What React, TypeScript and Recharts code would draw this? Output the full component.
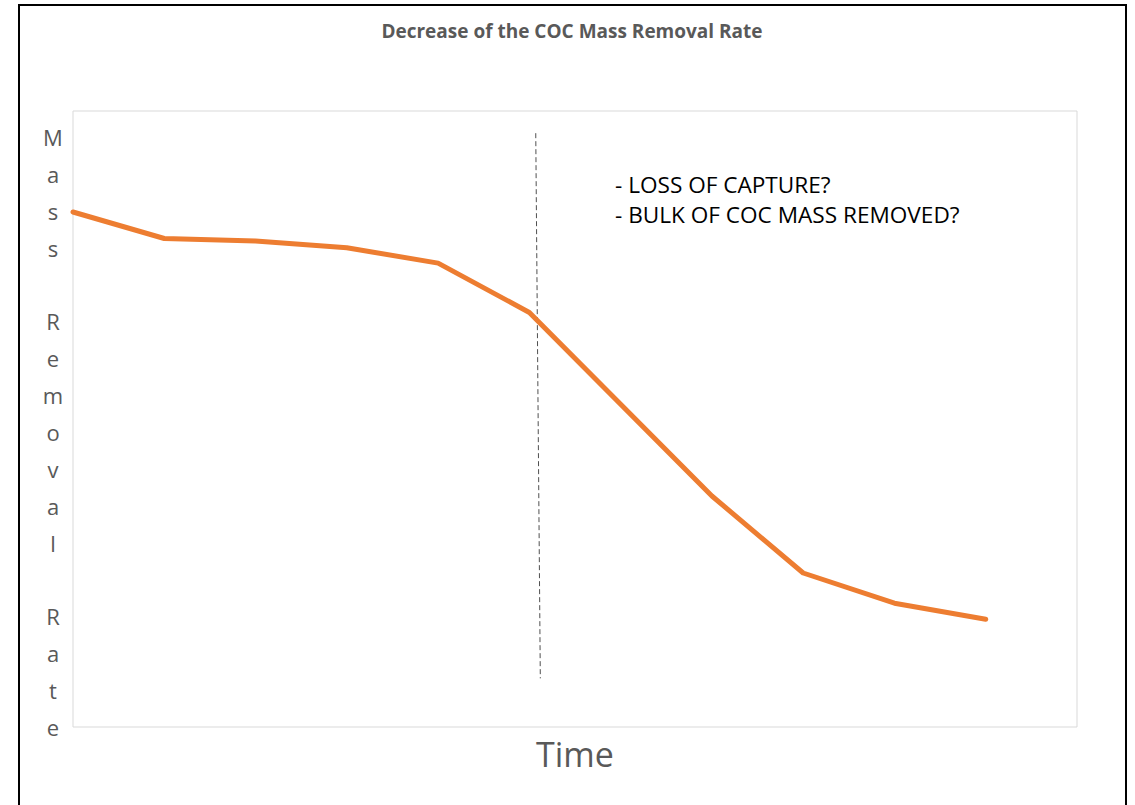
import React from 'react';
import { LineChart, Line, XAxis, YAxis, ReferenceLine, ReferenceArea } from 'recharts';

const timeSteps = [0, 1, 2, 3, 4, 5, 6, 7, 8, 9, 10];
const removalRate = [83.6, 79.3, 78.9, 77.8, 75.3, 67.3, 52.4, 37.5, 25.0, 20.1, 17.5];
const annotationLines = ['- LOSS OF CAPTURE?', '- BULK OF COC MASS REMOVED?'];
const yLabelLetters = ['M', 'a', 's', 's', '', 'R', 'e', 'm', 'o', 'v', 'a', 'l', '', 'R', 'a', 't', 'e'];
const dividerSegment = [
  { x: 5.07, y: 96.4 },
  { x: 5.12, y: 7.9 },
];

const data = timeSteps.map((t, i) => ({ x: t, rate: removalRate[i] }));

const FONT = '"Open Sans", "Noto Sans", sans-serif';

export default function App() {
  return (
    <div style={{ position: 'absolute', left: 0, top: 0, width: 1135, height: 805, overflow: 'hidden', background: '#fff' }}>
      <div
        style={{
          position: 'absolute',
          left: 18,
          top: 4,
          width: 1109,
          height: 801,
          boxSizing: 'border-box',
          borderLeft: '2.5px solid #000',
          borderTop: '2.5px solid #000',
          borderRight: '2.5px solid #000',
        }}
      />
      <div style={{ position: 'absolute', left: 0, top: 0 }}>
        <LineChart width={1135} height={805} data={data} margin={{ top: 111, right: 58, bottom: 78, left: 73 }}>
          <XAxis type="number" dataKey="x" domain={[0, 11]} hide />
          <YAxis type="number" domain={[0, 100]} hide />
          <ReferenceArea x1={0} x2={11} y1={0} y2={100} fill="none" stroke="#D9D9D9" strokeWidth={1} fillOpacity={0} />
          <ReferenceLine segment={dividerSegment} stroke="#505050" strokeWidth={1} strokeDasharray="5 3" />
          <Line
            type="linear"
            dataKey="rate"
            stroke="#ED7D31"
            strokeWidth={5}
            dot={false}
            activeDot={false}
            strokeLinejoin="round"
            strokeLinecap="round"
            isAnimationActive={false}
          />
        </LineChart>
      </div>
      <svg width={1135} height={805} style={{ position: 'absolute', left: 0, top: 0, pointerEvents: 'none' }}>
        <text x={572} y={38} textAnchor="middle" fontFamily={FONT} fontSize={19} fontWeight="bold" fill="#595959">
          Decrease of the COC Mass Removal Rate
        </text>
        {annotationLines.map((line, i) => (
          <text key={i} x={615} y={193 + i * 30} fontFamily={FONT} fontSize={22.6} fill="#000">
            {line}
          </text>
        ))}
        {yLabelLetters.map((ch, i) => (
          <text key={i} x={53} y={146 + i * 36.875} textAnchor="middle" fontFamily={FONT} fontSize={22} fill="#595959">
            {ch}
          </text>
        ))}
        <text x={575} y={767} textAnchor="middle" fontFamily={FONT} fontSize={34} fill="#595959">
          Time
        </text>
      </svg>
    </div>
  );
}
